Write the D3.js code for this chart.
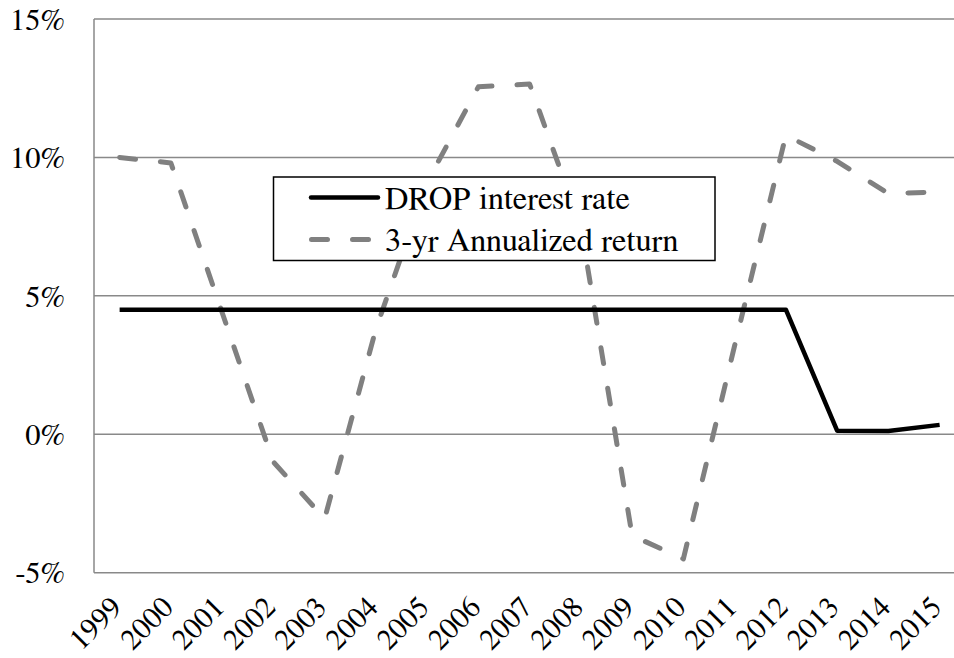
<!DOCTYPE html>
<html>
<head>
<meta charset="utf-8">
<script src="https://cdn.jsdelivr.net/npm/d3@7"></script>
<style>
  html, body { margin: 0; padding: 0; background: #fff; }
  svg { display: block; }
</style>
</head>
<body>
<svg id="chart" width="954" height="658"></svg>
<script>
const years = ["1999","2000","2001","2002","2003","2004","2005","2006","2007","2008","2009","2010","2011","2012","2013","2014","2015"];
const dropRate = [4.5,4.5,4.5,4.5,4.5,4.5,4.5,4.5,4.5,4.5,4.5,4.5,4.5,4.5,0.13,0.12,0.34];
const annualReturn = [10.0,9.8,4.4,-1.0,-3.05,3.8,9.1,12.55,12.65,7.5,-3.66,-4.5,3.2,10.8,9.86,8.7,8.75];
const yTicks = [-5,0,5,10,15];
const seriesNames = ["DROP interest rate","3-yr Annualized return"];

const FONT = '"FreeSerif", "Liberation Serif", serif';
const svg = d3.select("#chart");
const left = 94, step = 51.25;
const x = d3.scaleBand().domain(years).range([left, left + step * years.length]).paddingInner(0).paddingOuter(0);
const y = d3.scaleLinear().domain([-5, 15]).range([572.7, 19]);
const cx = d => x(d) + x.bandwidth() / 2;

// gridlines
svg.append("g").selectAll("line").data(yTicks).join("line")
  .attr("x1", left).attr("x2", 954)
  .attr("y1", d => y(d)).attr("y2", d => y(d))
  .attr("stroke", "#898989").attr("stroke-width", 1.5);
// left axis line
svg.append("line").attr("x1", left).attr("x2", left).attr("y1", y(15)).attr("y2", y(-5))
  .attr("stroke", "#898989").attr("stroke-width", 1.5);

// y labels
svg.append("g").selectAll("text").data(yTicks).join("text")
  .style("font-family", FONT)
  .attr("x", 65).attr("y", d => y(d)).attr("dy", "0.35em")
  .attr("text-anchor", "end").attr("font-size", 30.5).attr("fill", "#000")
  .text(d => d + "%");

// x labels
svg.append("g").selectAll("text").data(years).join("text")
  .style("font-family", FONT)
  .attr("text-anchor", "end").attr("font-size", 30).attr("fill", "#000")
  .attr("transform", d => `translate(${cx(d) + 4},609) rotate(-45)`)
  .text(d => d);

const line = d3.line().x((d, i) => cx(years[i])).y(d => y(d));

svg.append("path").datum(annualReturn).attr("d", line)
  .attr("fill", "none").attr("stroke", "#808080").attr("stroke-width", 5)
  .attr("stroke-dasharray", "16 25").attr("stroke-linecap", "round").attr("stroke-linejoin", "round");

svg.append("path").datum(dropRate).attr("d", line)
  .attr("fill", "none").attr("stroke", "#000").attr("stroke-width", 4.5)
  .attr("stroke-linejoin", "round");

// legend
const lg = svg.append("g");
lg.append("rect").attr("x", 273.5).attr("y", 177).attr("width", 441.5).attr("height", 83.5)
  .attr("fill", "#fff").attr("stroke", "#000").attr("stroke-width", 1.5);
lg.append("line").attr("x1", 311).attr("x2", 378).attr("y1", 197.5).attr("y2", 197.5)
  .attr("stroke", "#000").attr("stroke-width", 4.5).attr("stroke-linecap", "round");
lg.append("line").attr("x1", 311.5).attr("x2", 378).attr("y1", 239.5).attr("y2", 239.5)
  .attr("stroke", "#808080").attr("stroke-width", 5).attr("stroke-dasharray", "16 25").attr("stroke-linecap", "round");
lg.selectAll("text.lt").data(seriesNames).join("text").attr("class", "lt")
  .style("font-family", FONT).attr("fill", "#000")
  .attr("x", 385).attr("y", (d, i) => 197.5 + i * 42).attr("dy", "0.35em")
  .attr("font-size", 32.5).text(d => d);
</script>
</body>
</html>
